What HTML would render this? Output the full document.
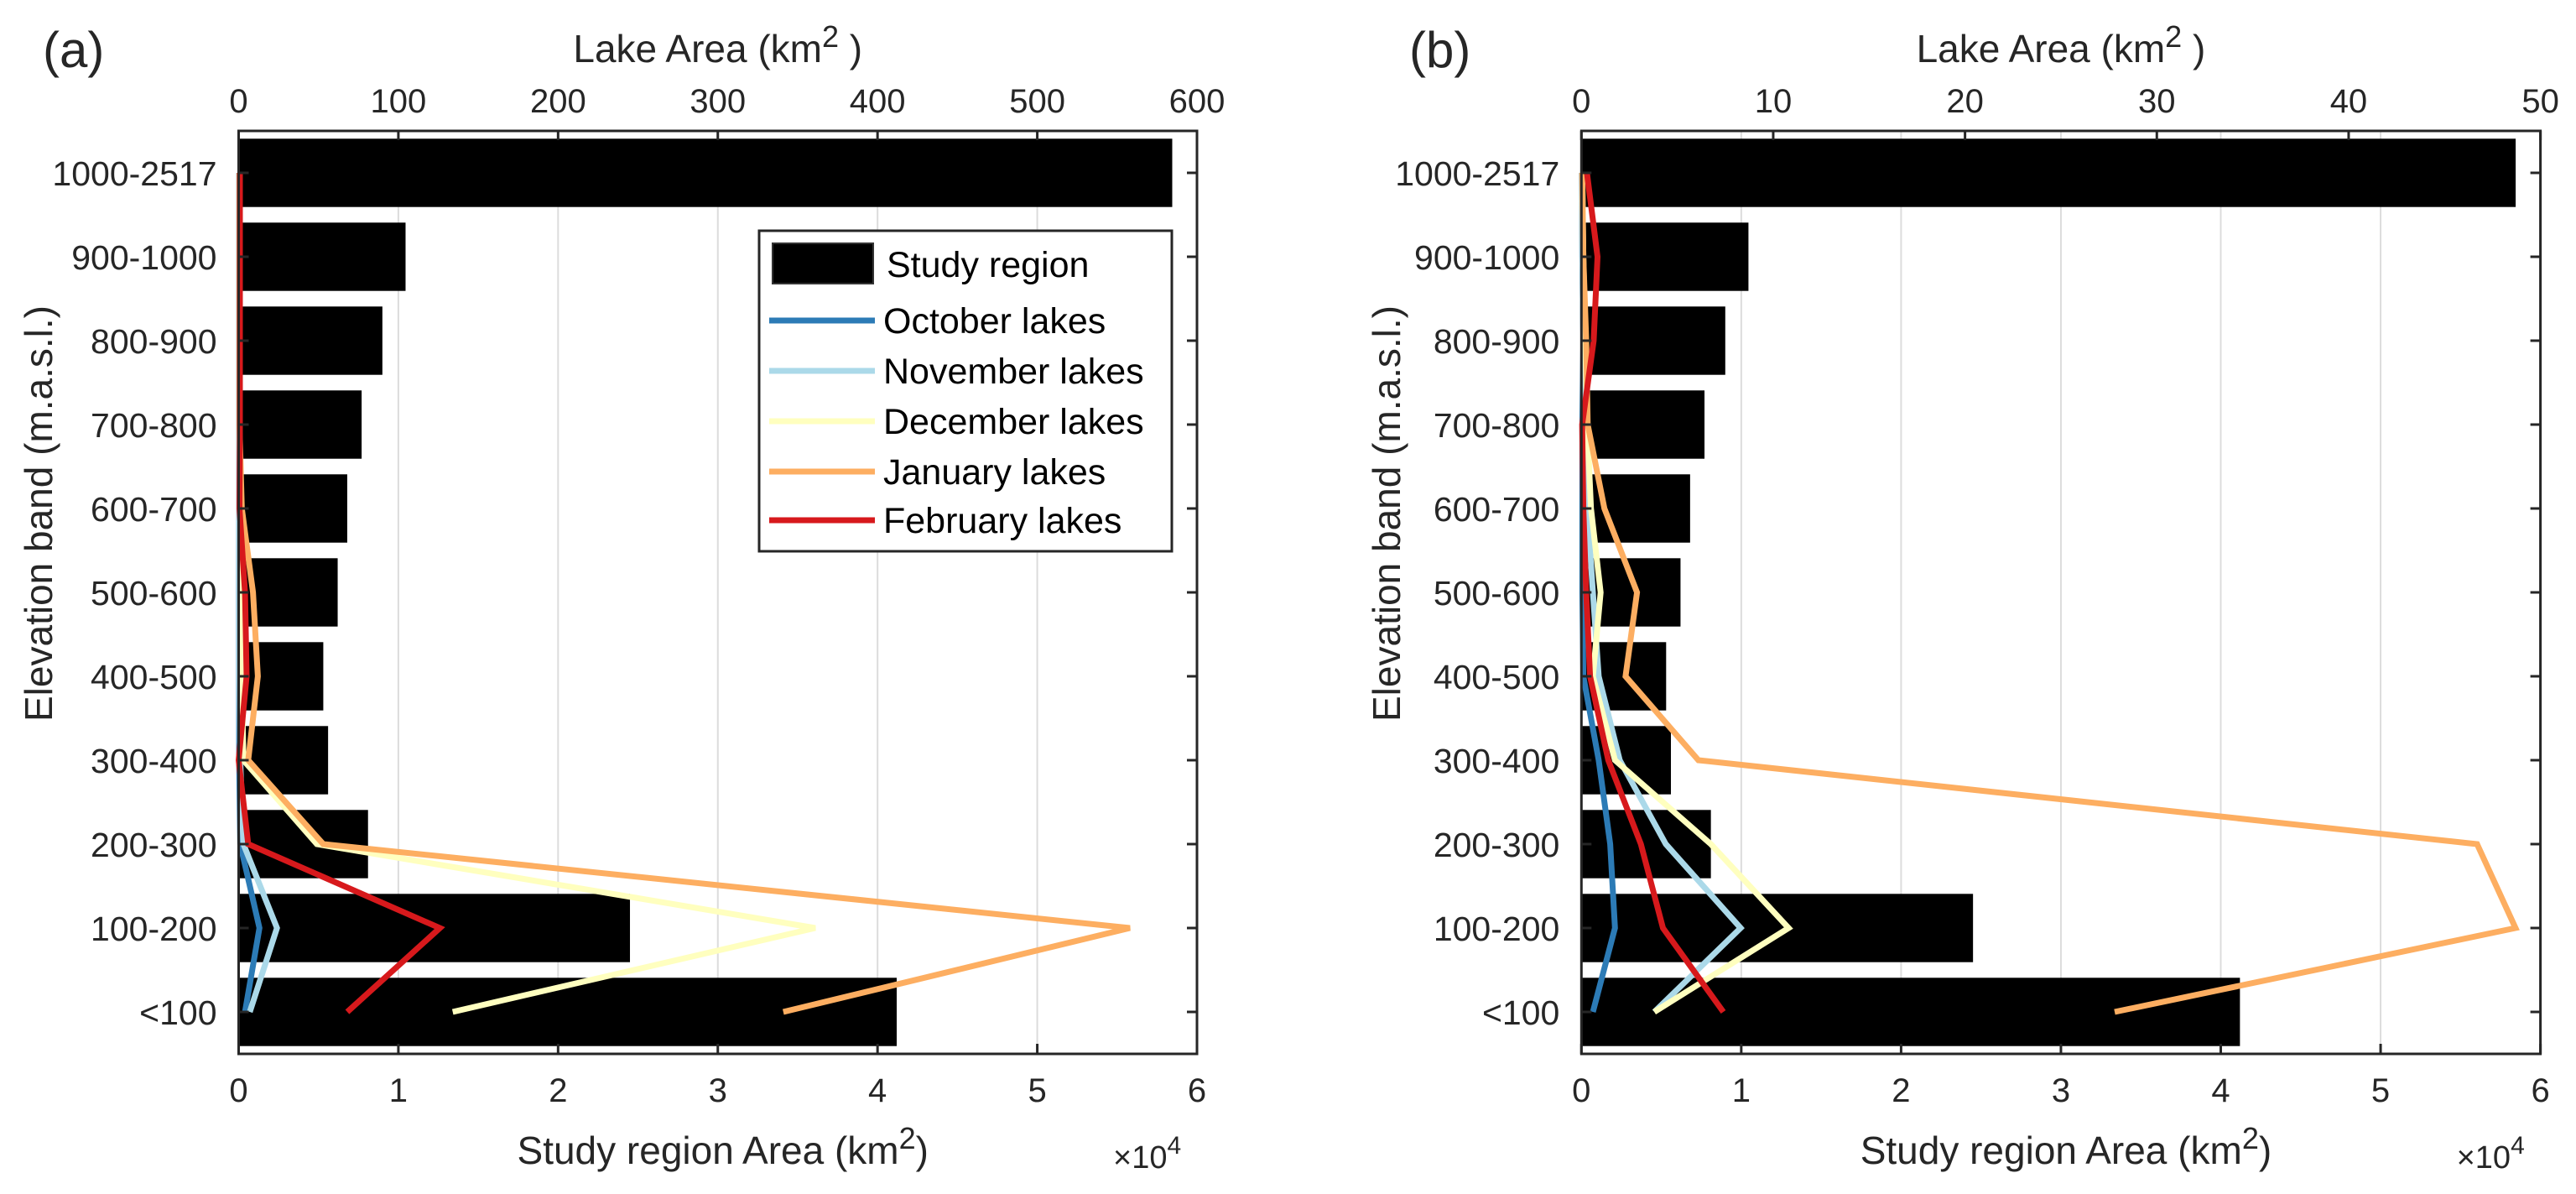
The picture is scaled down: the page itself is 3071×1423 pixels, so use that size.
<!DOCTYPE html>
<html><head><meta charset="utf-8"><style>
html,body{margin:0;padding:0;background:#fff;}
svg{display:block;font-family:"Liberation Sans",Arial,sans-serif;}
</style></head><body>
<svg id="chart" width="3071" height="1423" viewBox="0 0 3071 1423" xmlns="http://www.w3.org/2000/svg"></svg>
<script>
const categories = ["<100","100-200","200-300","300-400","400-500","500-600","600-700","700-800","800-900","900-1000","1000-2517"];
const regionArea = [4.12,2.45,0.81,0.56,0.53,0.62,0.68,0.77,0.90,1.045,5.845]; // x1e4 km2
const bottomTicks = [0,1,2,3,4,5,6];
// panel a lake areas (km2)
const aOct = [4,13,1,0.3,0.3,0.3,0.3,0.3,0.3,0.3,0.3];
const aNov = [7,24,3,1,0.5,0.5,0.3,0.3,0.3,0.3,0.3];
const aDec = [134,361,49,3,2,2,1,0.5,0.5,0.5,0.5];
const aJan = [341,558,53,6,12,9,2,0.5,0.5,0.5,0.5];
const aFeb = [68,126,6,0,5,4,0.5,0.8,0.8,0.8,0.8];
const aTopTicks = [0,100,200,300,400,500,600];
// panel b lake areas (km2)
const bOct = [0.6,1.75,1.5,0.9,0.1,0.05,0.05,0.05,0.1,0.05,0.02];
const bNov = [3.8,8.3,4.4,2.0,0.9,0.6,0.3,0.15,0.1,0.05,0.02];
const bDec = [3.8,10.8,6.75,1.75,0.6,1.0,0.5,0.3,0.2,0.1,0.05];
const bJan = [27.8,48.7,46.7,6.1,2.3,2.9,1.2,0.33,0.25,0.1,0.04];
const bFeb = [7.4,4.25,3.1,1.4,0.45,0.25,0.1,0.04,0.64,0.84,0.29];
const bTopTicks = [0,10,20,30,40,50];

const NS="http://www.w3.org/2000/svg";
const svg=document.getElementById('chart');
function mk(tag,attrs,parent,text){const e=document.createElementNS(NS,tag);for(const k in attrs)e.setAttribute(k,attrs[k]);if(text!==undefined)e.textContent=text;(parent||svg).appendChild(e);return e;}
const AX="#262626";
const colors={oct:"#2c7bb6",nov:"#abd9e9",dec:"#ffffbf",jan:"#fdae61",feb:"#d7191c"};

function panel(p){
  const g=mk('g',{});
  
  
  const L=p.left,R=p.right,T=156,B=1256;
  const xB=v=>L+(v/6)*(R-L);
  const xT=v=>L+(v/p.topMax)*(R-L);
  const step=(B-T)/11;
  const yC=i=>B-step*(i+0.5);
  bottomTicks.forEach(t=>{if(t>0&&t<6){const l=mk('line',{x1:xB(t),x2:xB(t),y1:T,y2:B,stroke:"#dcdcdc","stroke-width":2},g);}});
  regionArea.forEach((v,i)=>{const r=mk('rect',{x:L,y:yC(i)-step*0.407,width:xB(v)-L,height:step*0.814,fill:"#000"},g);});
  p.series.forEach(s=>{
    const pts=s.data.map((v,i)=>xT(v).toFixed(1)+","+yC(i).toFixed(1)).join(" ");
    const pl=mk('polyline',{points:pts,fill:"none",stroke:s.color,"stroke-width":7,"stroke-linejoin":"miter"},g);
    
    
  });
  const box=mk('rect',{x:L,y:T,width:R-L,height:B-T,fill:"none",stroke:AX,"stroke-width":3},g);
  
  bottomTicks.forEach(t=>{
    mk('line',{x1:xB(t),x2:xB(t),y1:B,y2:B-12,stroke:AX,"stroke-width":3},g);
    const tx=mk('text',{x:xB(t),y:1313,"font-size":40,fill:AX,"text-anchor":"middle"},g,String(t));
    
  });
  p.topTicks.forEach(t=>{
    mk('line',{x1:xT(t),x2:xT(t),y1:T,y2:T+11,stroke:AX,"stroke-width":3},g);
    const tx=mk('text',{x:xT(t),y:134,"font-size":40,fill:AX,"text-anchor":"middle"},g,String(t));
    
  });
  categories.forEach((c,i)=>{
    mk('line',{x1:L,x2:L+12,y1:yC(i),y2:yC(i),stroke:AX,"stroke-width":3},g);
    mk('line',{x1:R,x2:R-12,y1:yC(i),y2:yC(i),stroke:AX,"stroke-width":3},g);
    const tx=mk('text',{x:L-26,y:yC(i)+15,"font-size":41,fill:AX,"text-anchor":"end"},g,c);
    
  });
  const cx=(L+R)/2;
  const tt=mk('text',{x:cx,y:74,"font-size":46,fill:AX,"text-anchor":"middle"},g);
  
  mk('tspan',{},tt,"Lake Area (km");mk('tspan',{dy:-18,"font-size":36},tt,"2");mk('tspan',{dy:18},tt," )");
  const bt=mk('text',{x:cx+6,y:1387,"font-size":46,fill:AX,"text-anchor":"middle"},g);
  
  mk('tspan',{},bt,"Study region Area (km");mk('tspan',{dy:-18,"font-size":36},bt,"2");mk('tspan',{dy:18},bt,")");
  const ex=mk('text',{x:R-100,y:1392,"font-size":38,fill:AX},g);
  
  mk('tspan',{},ex,"×10");mk('tspan',{dy:-17,"font-size":30},ex,"4");
  const yt=mk('text',{x:0,y:0,"font-size":46,fill:AX,"text-anchor":"middle",transform:`translate(${p.ytx},612) rotate(-90)`},g,"Elevation band (m.a.s.l.)");
  
  const pl=mk('text',{x:p.lx,y:80,"font-size":60,fill:AX},g,p.label);
  
}
panel({name:'panel-a',left:284.5,right:1427,topMax:600,topTicks:aTopTicks,ytx:62,lx:51,label:"(a)",
  series:[{key:'october',data:aOct,color:colors.oct},{key:'november',data:aNov,color:colors.nov},{key:'december',data:aDec,color:colors.dec},{key:'january',data:aJan,color:colors.jan},{key:'february',data:aFeb,color:colors.feb}]});
panel({name:'panel-b',left:1885.3,right:3028.6,topMax:50,topTicks:bTopTicks,ytx:1669,lx:1680,label:"(b)",
  series:[{key:'october',data:bOct,color:colors.oct},{key:'november',data:bNov,color:colors.nov},{key:'december',data:bDec,color:colors.dec},{key:'january',data:bJan,color:colors.jan},{key:'february',data:bFeb,color:colors.feb}]});

const lg=mk('g',{});


mk('rect',{x:905,y:275,width:492,height:382,fill:"#fff",stroke:AX,"stroke-width":3},lg);
mk('rect',{x:921,y:290,width:120,height:48,fill:"#000",stroke:"#333","stroke-width":2},lg);
const st=mk('text',{x:1057,y:330,"font-size":43,fill:"#000"},lg,"Study region");

const legItems=[["October lakes",colors.oct,382],["November lakes",colors.nov,442],["December lakes",colors.dec,502],["January lakes",colors.jan,562],["February lakes",colors.feb,620]];
legItems.forEach(it=>{
  mk('line',{x1:917,x2:1043,y1:it[2],y2:it[2],stroke:it[1],"stroke-width":7},lg);
  const t=mk('text',{x:1053,y:it[2]+15,"font-size":43,fill:"#000"},lg,it[0]);
  
  
});
</script>
</body></html>
